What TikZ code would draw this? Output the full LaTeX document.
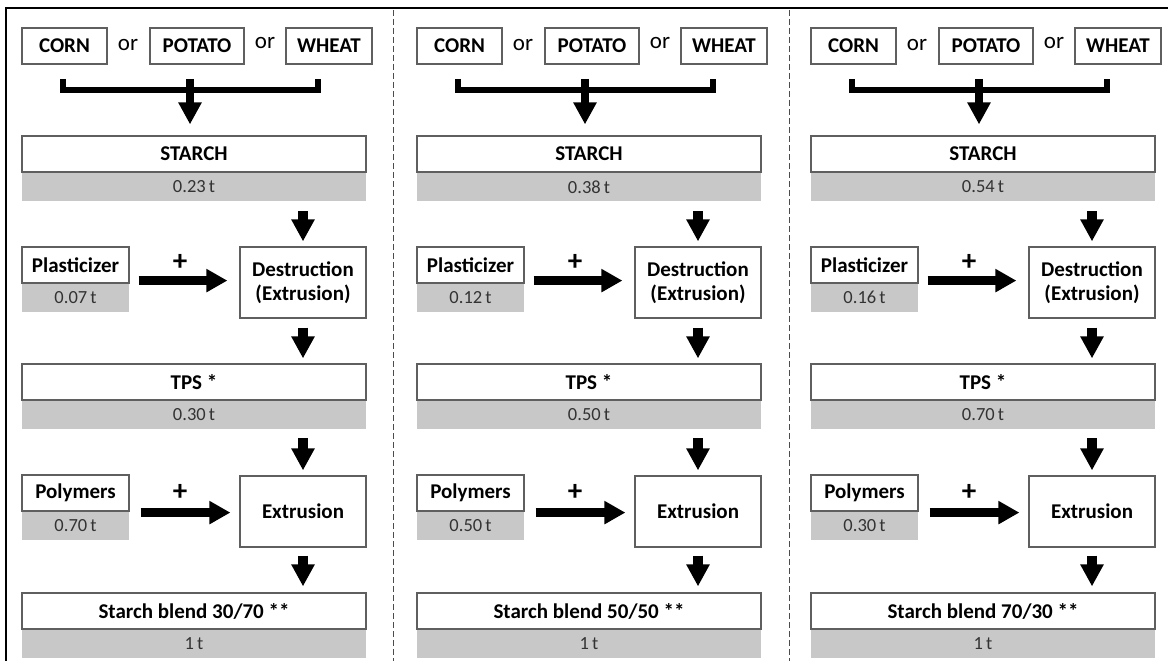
\documentclass[tikz,border=0pt]{standalone}
\usepackage{fontspec}
\setmainfont{Carlito}
\usetikzlibrary{arrows.meta}
\definecolor{valgray}{RGB}{200,200,200}
\definecolor{edgegray}{RGB}{95,95,95}
\begin{document}
\begin{tikzpicture}[x=1pt,y=-1pt,
    box/.style={draw=edgegray, line width=1.2pt, fill=white, inner sep=0pt,
      minimum height=36pt, font=\bfseries\fontsize{21}{24}\selectfont},
    val/.style={fill=valgray, inner sep=0pt, minimum height=28pt,
      text=black!80, font=\fontsize{18.5}{20}\selectfont},
    ortext/.style={inner sep=0pt, font=\fontsize{23}{25}\selectfont},
    plus/.style={inner sep=0pt, font=\bfseries\fontsize{29}{30}\selectfont},
    bracket/.style={line width=6pt, miter limit=10},
    varr/.style={line width=10pt, -{Triangle[width=22pt,length=22pt]}},
    harr/.style={line width=8.5pt, -{Triangle[width=22pt,length=21pt]}},
    sep/.style={line width=0.8pt, dash pattern=on 6pt off 3pt, black!70}]
  \useasboundingbox (0,0) rectangle (1168,661);
  \draw[line width=2pt] (6,661) -- (6,8) -- (1168,8);
  \draw[sep] (393,10) -- (393,661);
  \draw[sep] (789,10) -- (789,661);

  % blend 30/70
  \begin{scope}
    \node[box, minimum width=85pt] (corn1) at (64.5,46) {CORN};
    \node[ortext] (ora1) at (128,45) {or};
    \node[box, minimum width=94pt] (potato1) at (197,46) {POTATO};
    \node[ortext] (orb1) at (265,43) {or};
    \node[box, minimum width=86pt] (wheat1) at (329,46) {WHEAT};
    \coordinate (bl1) at (63,79);
    \coordinate (bm1) at (190,79);
    \coordinate (br1) at (318,79);
    \draw[bracket] (bl1) -- ++(0,11) -| (br1);
    \node[box, minimum width=344pt] (starch1) at (194,154) {STARCH};
    \node[val, minimum width=344pt, anchor=north] (starchv1) at (starch1.south) {0.23\,t};
    \draw[varr, line width=8pt, shorten >=11pt] (bm1) -- (bm1 |- starch1.north);
    \node[box, minimum width=107pt] (plast1) at (75.5,265) {Plasticizer};
    \node[val, minimum width=107pt, anchor=north] (plastv1) at (plast1.south) {0.07\,t};
    \node[plus] (plusa1) at (180,262) {+};
    \node[box, minimum width=126pt, minimum height=71pt, align=center] (dest1) at (303,282.5) {Destruction\\(Extrusion)};
    \node[box, minimum width=344pt] (tps1) at (194,382) {TPS *};
    \node[val, minimum width=344pt, anchor=north] (tpsv1) at (tps1.south) {0.30\,t};
    \node[box, minimum width=107pt] (poly1) at (75.5,493) {Polymers};
    \node[val, minimum width=107pt, anchor=north] (polyv1) at (poly1.south) {0.70\,t};
    \node[plus] (plusb1) at (180,492) {+};
    \node[box, minimum width=126pt, minimum height=71pt] (extr1) at (303,511.5) {Extrusion};
    \node[box, minimum width=344pt] (blend1) at (194,611) {Starch blend 30/70 **};
    \node[val, minimum width=344pt, anchor=north] (blendv1) at (blend1.south) {1\,t};
    \coordinate (pin1) at ([yshift=3pt]plast1.south east);
    \coordinate (qin1) at ([yshift=-1pt]poly1.south east);
    \draw[harr, shorten <=9pt, shorten >=12pt] (pin1) -- (pin1 -| dest1.west);
    \draw[harr, shorten <=11pt, shorten >=9pt] (qin1) -- (qin1 -| extr1.west);
    \draw[varr, shorten <=10pt, shorten >=5pt] (starchv1.south -| dest1.north) -- (dest1.north);
    \draw[varr, shorten <=9pt, shorten >=5pt] (dest1.south) -- (dest1.south |- tps1.north);
    \draw[varr, shorten <=9pt, shorten >=5pt] (tpsv1.south -| extr1.north) -- (extr1.north);
    \draw[varr, shorten <=8pt, shorten >=6pt] (extr1.south) -- (extr1.south |- blend1.north);
  \end{scope}

  % blend 50/50
  \begin{scope}[xshift=395pt]
    \node[box, minimum width=85pt] (corn2) at (64.5,46) {CORN};
    \node[ortext] (ora2) at (128,45) {or};
    \node[box, minimum width=94pt] (potato2) at (197,46) {POTATO};
    \node[ortext] (orb2) at (265,43) {or};
    \node[box, minimum width=86pt] (wheat2) at (329,46) {WHEAT};
    \coordinate (bl2) at (63,79);
    \coordinate (bm2) at (190,79);
    \coordinate (br2) at (318,79);
    \draw[bracket] (bl2) -- ++(0,11) -| (br2);
    \node[box, minimum width=344pt] (starch2) at (194,154) {STARCH};
    \node[val, minimum width=344pt, anchor=north] (starchv2) at (starch2.south) {0.38\,t};
    \draw[varr, line width=8pt, shorten >=11pt] (bm2) -- (bm2 |- starch2.north);
    \node[box, minimum width=107pt] (plast2) at (75.5,265) {Plasticizer};
    \node[val, minimum width=107pt, anchor=north] (plastv2) at (plast2.south) {0.12\,t};
    \node[plus] (plusa2) at (180,262) {+};
    \node[box, minimum width=126pt, minimum height=71pt, align=center] (dest2) at (303,282.5) {Destruction\\(Extrusion)};
    \node[box, minimum width=344pt] (tps2) at (194,382) {TPS *};
    \node[val, minimum width=344pt, anchor=north] (tpsv2) at (tps2.south) {0.50\,t};
    \node[box, minimum width=107pt] (poly2) at (75.5,493) {Polymers};
    \node[val, minimum width=107pt, anchor=north] (polyv2) at (poly2.south) {0.50\,t};
    \node[plus] (plusb2) at (180,492) {+};
    \node[box, minimum width=126pt, minimum height=71pt] (extr2) at (303,511.5) {Extrusion};
    \node[box, minimum width=344pt] (blend2) at (194,611) {Starch blend 50/50 **};
    \node[val, minimum width=344pt, anchor=north] (blendv2) at (blend2.south) {1\,t};
    \coordinate (pin2) at ([yshift=3pt]plast2.south east);
    \coordinate (qin2) at ([yshift=-1pt]poly2.south east);
    \draw[harr, shorten <=9pt, shorten >=12pt] (pin2) -- (pin2 -| dest2.west);
    \draw[harr, shorten <=11pt, shorten >=9pt] (qin2) -- (qin2 -| extr2.west);
    \draw[varr, shorten <=10pt, shorten >=5pt] (starchv2.south -| dest2.north) -- (dest2.north);
    \draw[varr, shorten <=9pt, shorten >=5pt] (dest2.south) -- (dest2.south |- tps2.north);
    \draw[varr, shorten <=9pt, shorten >=5pt] (tpsv2.south -| extr2.north) -- (extr2.north);
    \draw[varr, shorten <=8pt, shorten >=6pt] (extr2.south) -- (extr2.south |- blend2.north);
  \end{scope}

  % blend 70/30
  \begin{scope}[xshift=789pt]
    \node[box, minimum width=85pt] (corn3) at (64.5,46) {CORN};
    \node[ortext] (ora3) at (128,45) {or};
    \node[box, minimum width=94pt] (potato3) at (197,46) {POTATO};
    \node[ortext] (orb3) at (265,43) {or};
    \node[box, minimum width=86pt] (wheat3) at (329,46) {WHEAT};
    \coordinate (bl3) at (63,79);
    \coordinate (bm3) at (190,79);
    \coordinate (br3) at (318,79);
    \draw[bracket] (bl3) -- ++(0,11) -| (br3);
    \node[box, minimum width=344pt] (starch3) at (194,154) {STARCH};
    \node[val, minimum width=344pt, anchor=north] (starchv3) at (starch3.south) {0.54\,t};
    \draw[varr, line width=8pt, shorten >=11pt] (bm3) -- (bm3 |- starch3.north);
    \node[box, minimum width=107pt] (plast3) at (75.5,265) {Plasticizer};
    \node[val, minimum width=107pt, anchor=north] (plastv3) at (plast3.south) {0.16\,t};
    \node[plus] (plusa3) at (180,262) {+};
    \node[box, minimum width=126pt, minimum height=71pt, align=center] (dest3) at (303,282.5) {Destruction\\(Extrusion)};
    \node[box, minimum width=344pt] (tps3) at (194,382) {TPS *};
    \node[val, minimum width=344pt, anchor=north] (tpsv3) at (tps3.south) {0.70\,t};
    \node[box, minimum width=107pt] (poly3) at (75.5,493) {Polymers};
    \node[val, minimum width=107pt, anchor=north] (polyv3) at (poly3.south) {0.30\,t};
    \node[plus] (plusb3) at (180,492) {+};
    \node[box, minimum width=126pt, minimum height=71pt] (extr3) at (303,511.5) {Extrusion};
    \node[box, minimum width=344pt] (blend3) at (194,611) {Starch blend 70/30 **};
    \node[val, minimum width=344pt, anchor=north] (blendv3) at (blend3.south) {1\,t};
    \coordinate (pin3) at ([yshift=3pt]plast3.south east);
    \coordinate (qin3) at ([yshift=-1pt]poly3.south east);
    \draw[harr, shorten <=9pt, shorten >=12pt] (pin3) -- (pin3 -| dest3.west);
    \draw[harr, shorten <=11pt, shorten >=9pt] (qin3) -- (qin3 -| extr3.west);
    \draw[varr, shorten <=10pt, shorten >=5pt] (starchv3.south -| dest3.north) -- (dest3.north);
    \draw[varr, shorten <=9pt, shorten >=5pt] (dest3.south) -- (dest3.south |- tps3.north);
    \draw[varr, shorten <=9pt, shorten >=5pt] (tpsv3.south -| extr3.north) -- (extr3.north);
    \draw[varr, shorten <=8pt, shorten >=6pt] (extr3.south) -- (extr3.south |- blend3.north);
  \end{scope}
\end{tikzpicture}
\end{document}
